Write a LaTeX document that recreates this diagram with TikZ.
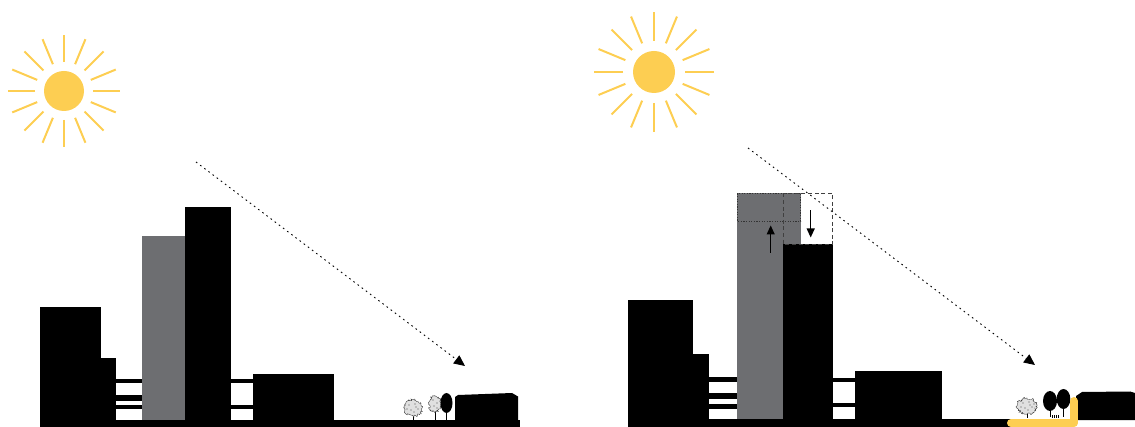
\documentclass[tikz,border=0pt]{standalone}
\usetikzlibrary{arrows.meta,decorations.pathmorphing}
\definecolor{sunyellow}{RGB}{253,206,82}
\definecolor{towergray}{RGB}{109,110,113}
\tikzset{
  solid block/.style={fill=black},
  gray block/.style={fill=towergray},
  sunray/.style={draw=sunyellow,line width=2pt},
  lightray/.style={draw=black,line width=0.9pt,dash pattern=on 1.6pt off 3.6pt,
    -{Triangle[length=11pt,width=10pt]}},
  shiftarrow/.style={draw=black,line width=1.1pt,-{Triangle[length=9pt,width=8pt]}},
  dotbox/.style={draw=black!80,line width=1.1pt,dash pattern=on 1.2pt off 1.4pt},
  dashbox/.style={draw=black!75,line width=1.1pt,dash pattern=on 4pt off 2.6pt},
  darktree/.style={fill=black},
  sketchtree/.style={fill=black!12,draw=black!80,line width=0.35pt,decorate,
    decoration={random steps,segment length=1pt,amplitude=1.2pt}},
  leafdot/.style={fill=black!70},
  trunk/.style={draw=black,line width=0.8pt},
  walkway/.style={draw=sunyellow,line width=8pt,line cap=round,line join=round}
}
\begin{document}
\begin{tikzpicture}[x=1pt,y=-1pt]
\useasboundingbox (0,0) rectangle (1135,427);

% ---------------- left scene: existing ----------------
\node[circle,fill=sunyellow,minimum size=40pt,inner sep=0pt] (sunL) at (64,91) {};
\foreach \a in {0,22.5,...,337.5}
  \draw[sunray] (sunL.center) ++(\a:29) -- ++(\a:27);

% ground
\fill[solid block] (40,420) rectangle (520,427);
% housing blocks and towers
\fill[solid block] (40,307) rectangle (101,427);
\fill[solid block] (101,358) rectangle (116,427);
\fill[solid block] (116,379.5) rectangle (142,383.5);
\fill[solid block] (116,395) rectangle (143,400.5);
\fill[solid block] (116,405) rectangle (142,409.3);
\fill[gray block] (142,236) rectangle (185,420);
\fill[solid block] (185,207) rectangle (231,427);
\fill[solid block] (231,379.5) rectangle (253,383.5);
\fill[solid block] (231,405) rectangle (253,409.3);
\fill[solid block] (253,374) rectangle (334,427);
% low building at the end of the street
\fill[solid block] (455,420) -- (455,397) -- (458,395) -- (512,393) -- (518,396.5) -- (518,420) -- cycle;
% trees
\draw[trunk] (413,411) -- (413,420);
\path[sketchtree] (413,408) ellipse [x radius=9,y radius=8];
\foreach \dx/\dy in {-4/-3,2/-4,5/1,-2/2,1/4,-6/1,3/-1}
  \fill[leafdot] (413+\dx,408+\dy) circle [radius=0.6];
\draw[trunk] (435,405) -- (435,420);
\path[sketchtree] (435,404) ellipse [x radius=6,y radius=8];
\foreach \dx/\dy in {-2/-4,2/-1,-1/2,2/4}
  \fill[leafdot] (435+\dx,404+\dy) circle [radius=0.6];
\draw[trunk] (446.5,408) -- (446.5,420);
\fill[darktree] (446.5,403) ellipse [x radius=6,y radius=10];
% sun path
\coordinate (rayLstart) at (196,162);
\coordinate (rayLend) at (465,366);
\draw[lightray] (rayLstart) -- (rayLend);

% ---------------- right scene: proposed ----------------
\node[circle,fill=sunyellow,minimum size=42pt,inner sep=0pt] (sunR) at (654,72) {};
\foreach \a in {0,22.5,...,337.5}
  \draw[sunray] (sunR.center) ++(\a:31) -- ++(\a:29);

% ground
\fill[solid block] (628,419) rectangle (1012,427);
% housing blocks and towers
\fill[solid block] (628,300) rectangle (693,427);
\fill[solid block] (693,354) rectangle (709,427);
\fill[solid block] (709,377.5) rectangle (737,381.7);
\fill[solid block] (709,393.3) rectangle (737,399.3);
\fill[solid block] (709,404.3) rectangle (737,408.7);
\fill[gray block] (737,193.5) rectangle (801,419);
\fill[solid block] (783,244.5) rectangle (833,427);
\fill[solid block] (833,378.3) rectangle (855,382);
\fill[solid block] (833,403.3) rectangle (855,407.3);
\fill[solid block] (855,371) rectangle (942,427);
% massing shift outlines
\draw[dotbox] (737.5,193.5) rectangle (800.5,221.5);
\draw[dashbox] (783.5,193.5) rectangle (832.5,244.5);
\coordinate (upFrom) at (770.7,252.7);
\coordinate (upTo) at (770.7,225.5);
\draw[shiftarrow] (upFrom) -- (upTo);
\coordinate (downFrom) at (810.7,210.5);
\coordinate (downTo) at (810.7,237.5);
\draw[shiftarrow] (downFrom) -- (downTo);
% low building at the end of the street
\fill[solid block] (1076,420) -- (1076,396) -- (1082,392) -- (1130,391.5) -- (1135,393) -- (1135,420) -- cycle;
% trees
\draw[trunk] (1027,410) -- (1027,418);
\path[sketchtree] (1027,406) ellipse [x radius=10,y radius=8];
\foreach \dx/\dy in {-4/-3,2/-4,5/1,-2/2,1/4,-6/1,3/-1,7/-2}
  \fill[leafdot] (1027+\dx,406+\dy) circle [radius=0.6];
\draw[trunk] (1050,405) -- (1050,417);
\fill[darktree] (1050,401) ellipse [x radius=7,y radius=10];
\draw[trunk] (1063.5,403) -- (1063.5,417);
\fill[darktree] (1063.5,399) ellipse [x radius=6.8,y radius=10];
\foreach \fx in {1052,1054,1056,1058}
  \draw[black,line width=0.5pt] (\fx,415) -- (\fx,418);
% new walkway
\coordinate (walkA) at (1011,423);
\coordinate (walkB) at (1074,423);
\coordinate (walkC) at (1074,401);
\draw[walkway] (walkA) -- (walkB) -- (walkC);
% sun path
\coordinate (rayRstart) at (748,148);
\coordinate (rayRend) at (1035,365);
\draw[lightray] (rayRstart) -- (rayRend);
\end{tikzpicture}
\end{document}
